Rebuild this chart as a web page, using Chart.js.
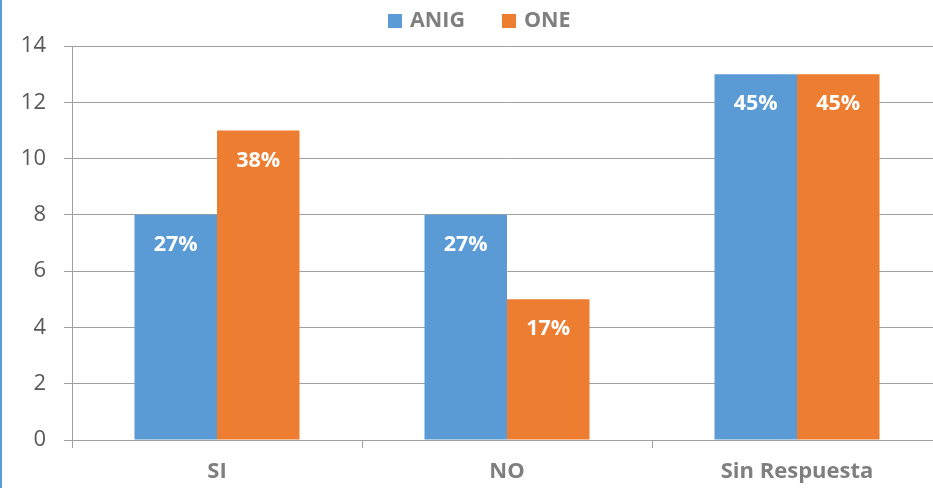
<!DOCTYPE html>
<html>
<head>
<meta charset="utf-8">
<script src="https://cdn.jsdelivr.net/npm/chart.js@4.4.1/dist/chart.umd.min.js"></script>
<style>
  html, body { margin: 0; padding: 0; background: #ffffff; overflow: hidden; width: 933px; height: 488px; }
  canvas { display: block; }
</style>
</head>
<body>
<canvas id="c" width="942" height="488"></canvas>
<script>
const categories = ['SI', 'NO', 'Sin Respuesta'];
const seriesNames = ['ANIG', 'ONE'];
const anigValues = [8, 8, 13];
const oneValues = [11, 5, 13];
const anigLabels = ['27%', '27%', '45%'];
const oneLabels = ['38%', '17%', '45%'];
const yTicks = [0, 2, 4, 6, 8, 10, 12, 14];

const BLUE = '#5B9BD5';
const ORANGE = '#ED7D31';
const GRID = '#a0a0a0';
const FONT = "'Open Sans', 'Liberation Sans', sans-serif";

const pointLabels = [anigLabels, oneLabels];

const frameAndLegend = {
  id: 'frameAndLegend',
  beforeDraw(chart) {
    const ctx = chart.ctx;
    ctx.save();
    ctx.fillStyle = '#ffffff';
    ctx.fillRect(0, 0, chart.width, chart.height);
    ctx.fillStyle = BLUE;
    ctx.fillRect(0, 0, 2, chart.height);
    ctx.restore();
  },
  afterDraw(chart) {
    const ctx = chart.ctx;
    ctx.save();
    ctx.font = 'bold 21.5px ' + FONT;
    ctx.textBaseline = 'middle';
    ctx.textAlign = 'left';
    let x = 388;
    const y = 21;
    chart.data.datasets.forEach((ds) => {
      ctx.fillStyle = ds.backgroundColor;
      ctx.fillRect(x, y - 7, 14, 14);
      x += 14 + 8;
      ctx.fillStyle = '#7f7f7f';
      ctx.fillText(ds.label, x, y);
      x += ctx.measureText(ds.label).width + 37;
    });
    ctx.restore();
  }
};

const barLabels = {
  id: 'barLabels',
  afterDatasetsDraw(chart) {
    const ctx = chart.ctx;
    ctx.save();
    ctx.font = 'bold 21.5px ' + FONT;
    ctx.fillStyle = '#ffffff';
    ctx.textAlign = 'center';
    ctx.textBaseline = 'middle';
    chart.data.datasets.forEach((ds, di) => {
      const meta = chart.getDatasetMeta(di);
      meta.data.forEach((el, i) => {
        ctx.fillText(pointLabels[di][i], el.x, el.y + 30);
      });
    });
    ctx.restore();
  }
};

new Chart(document.getElementById('c'), {
  type: 'bar',
  data: {
    labels: categories,
    datasets: [
      { label: seriesNames[0], data: anigValues, backgroundColor: BLUE, borderWidth: 0 },
      { label: seriesNames[1], data: oneValues, backgroundColor: ORANGE, borderWidth: 0 }
    ]
  },
  options: {
    responsive: false,
    animation: false,
    layout: { padding: { top: 46, left: 0, right: 0, bottom: 0 } },
    plugins: {
      legend: { display: false },
      tooltip: { enabled: false }
    },
    datasets: {
      bar: { categoryPercentage: 0.569, barPercentage: 1.0 }
    },
    scales: {
      x: {
        offset: true,
        grid: { offset: true, drawOnChartArea: false, drawTicks: true, tickLength: 8, color: GRID, lineWidth: 1 },
        border: { display: true, color: GRID, width: 1 },
        ticks: { color: '#7f7f7f', padding: 11, font: { family: FONT, size: 22, weight: 'bold' } },
        afterFit(scale) { scale.height = 48; }
      },
      y: {
        min: 0,
        max: 14,
        afterBuildTicks(scale) { scale.ticks = yTicks.map(v => ({ value: v })); },
        grid: { color: GRID, lineWidth: 1, tickLength: 8, drawTicks: true },
        border: { display: true, color: GRID, width: 1 },
        ticks: { color: '#595959', padding: 18, font: { family: FONT, size: 22 } },
        afterFit(scale) { scale.width = 72; }
      }
    }
  },
  plugins: [frameAndLegend, barLabels]
});
</script>
</body>
</html>
